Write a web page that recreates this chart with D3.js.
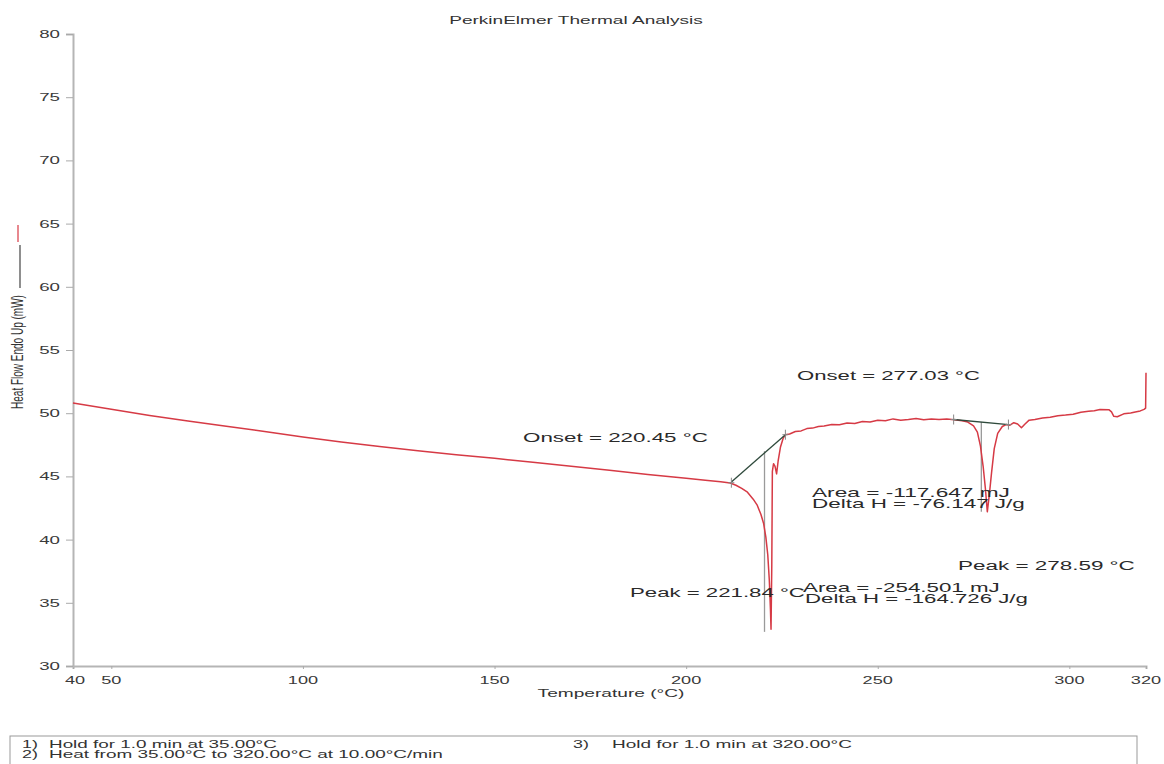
<!DOCTYPE html>
<html>
<head>
<meta charset="utf-8">
<script src="https://cdn.jsdelivr.net/npm/d3@7"></script>
<style>
  html, body { margin: 0; padding: 0; background: #fff; }
  svg { display: block; font-family: "Liberation Sans", Arial, sans-serif; }
</style>
</head>
<body>
<svg id="chart" width="1164" height="764"></svg>
<script>
// ---------------- DATA ----------------
const temperature = [
  40, 50, 60, 70, 80, 90, 100, 110, 120, 130, 140, 150, 160, 170, 180, 190, 200, 205, 209, 211.5,
  213, 214.5, 216, 217.5, 218.5, 219.5, 220.2, 220.8, 221.3, 221.7, 222.0, 222.15,
  222.35, 222.5, 222.8, 223.2, 223.6, 224.0, 224.6, 225.3, 225.9,
  227, 228.5, 230, 231.5, 233, 234.5, 236, 238, 240, 242, 244, 246, 248, 250, 252, 254, 256, 258,
  260, 262, 264, 266, 268, 270, 272, 273.5, 275, 276, 276.8, 277.5, 278.1, 278.59, 279.1, 279.7,
  280.4, 281.3, 282.5, 283.5, 284.5, 285.5, 286.5, 287.5, 288.3, 289.5, 291, 293, 295, 297, 299,
  301, 303, 305, 306.5, 308, 310.3, 311.0, 311.6, 312.5, 314.2, 316, 317.2, 318.5, 319.5, 319.9, 320
];
const heatFlow = [
  50.80, 50.32, 49.82, 49.38, 48.96, 48.56, 48.12, 47.72, 47.36, 47.02, 46.72, 46.43, 46.12, 45.80, 45.48, 45.15, 44.85, 44.70, 44.58, 44.48,
  44.30, 44.05, 43.75, 43.20, 42.75, 42.00, 41.30, 40.20, 38.80, 36.80, 34.50, 32.90,
  38.00, 45.40, 46.00, 45.80, 45.20, 46.20, 47.30, 48.00, 48.30,
  48.35, 48.55, 48.60, 48.78, 48.82, 48.95, 48.98, 49.10, 49.08, 49.22, 49.18, 49.35, 49.30, 49.45, 49.40, 49.55, 49.45, 49.50,
  49.58, 49.48, 49.55, 49.50, 49.55, 49.48, 49.40, 49.30, 49.00, 48.50, 47.40, 45.80, 44.00, 42.20, 43.50, 45.30,
  47.20, 48.40, 48.95, 49.10, 49.05, 49.25, 49.15, 48.85, 49.10, 49.45, 49.50, 49.62, 49.68, 49.80, 49.85,
  49.92, 50.08, 50.15, 50.20, 50.30, 50.28, 50.10, 49.75, 49.72, 49.95, 50.02, 50.10, 50.18, 50.30, 50.40, 53.20
];

// analysis constructions (temperature, heat flow)
const tangent1 = [[211.8, 44.55], [225.9, 48.30]];
const baseline2 = [[269.8, 49.50], [284.1, 49.10]];
const markerPoints = [[211.8, 44.50], [225.9, 48.30], [269.8, 49.50], [284.1, 49.10]];
const onsetTemps = [220.45, 277.03];
const onsetTop = [47.00, 49.30];
const onsetBottom = [32.70, 42.20];

const xTicks = [40, 50, 100, 150, 200, 250, 300, 320];
const yTicks = [30, 35, 40, 45, 50, 55, 60, 65, 70, 75, 80];

const titleText = "PerkinElmer Thermal Analysis";
const xLabel = "Temperature (°C)";
const yLabel = "Heat Flow Endo Up (mW)";
const annotations = [
  "Onset = 220.45 °C", "Onset = 277.03 °C",
  "Area = -117.647 mJ", "Delta H = -76.147 J/g",
  "Peak = 221.84 °C", "Area = -254.501 mJ", "Delta H = -164.726 J/g",
  "Peak = 278.59 °C"
];
const programSteps = [
  ["1)", "Hold for 1.0 min at 35.00°C"],
  ["2)", "Heat from 35.00°C to 320.00°C at 10.00°C/min"],
  ["3)", "Hold for 1.0 min at 320.00°C"]
];

// ---------------- CHART ----------------
const svg = d3.select("#chart");
const x = d3.scaleLinear().domain([40, 320]).range([73, 1146]);
const y = d3.scaleLinear().domain([30, 80]).range([666, 34]);

// stretched text helper (reference is horizontally stretched)
function stext(px, py, str, size, opts = {}) {
  const g = svg.append("g");
  const t = g.append("text")
    .attr("x", 0).attr("y", 0)
    .attr("font-size", size)
    .attr("fill", opts.fill || "#2a2a2a")
    .attr("text-anchor", opts.anchor || "start")
    .attr("dominant-baseline", "central")
    .text(str);
  let sx = opts.sx || 1.6;
  if (opts.width) sx = opts.width / t.node().getComputedTextLength();
  if (opts.rotate) {
    g.attr("transform", `translate(${px},${py}) scale(${opts.sxr || 1.6},1) rotate(-90)`);
  } else {
    g.attr("transform", `translate(${px},${py}) scale(${sx},1)`);
  }
  return t;
}

// title
stext(576, 20, titleText, 11, {anchor: "middle", width: 254, fill: "#333"});

// axes
const xAxis = d3.axisBottom(x).tickValues(xTicks).tickSize(3).tickFormat("");
const gx = svg.append("g").attr("transform", "translate(0,666)").call(xAxis);
gx.select(".domain").attr("stroke", "#b5b5b5").attr("stroke-width", 2);
gx.selectAll(".tick line").attr("stroke", "#aaa");

const yAxis = d3.axisLeft(y).tickValues(yTicks).tickSize(7).tickFormat("");
const gy = svg.append("g").attr("transform", "translate(73,0)").call(yAxis);
gy.select(".domain").attr("stroke", "#b5b5b5").attr("stroke-width", 2);
gy.selectAll(".tick line").attr("stroke", "#aaa");

// tick labels
xTicks.forEach(v => stext(x(v) + (v === 40 ? 2 : 0), 680, String(v), 11, {anchor: "middle", sx: 1.65, fill: "#3a3a3a"}));
yTicks.forEach(v => stext(60, y(v), String(v), 11, {anchor: "end", sx: 1.7, fill: "#3a3a3a"}));

// axis labels
stext(611, 693, xLabel, 11.5, {anchor: "middle", width: 147, fill: "#333"});
stext(18, 352, yLabel, 10, {anchor: "middle", rotate: true, sxr: 1.6, fill: "#333"});
svg.append("line").attr("x1", 18).attr("x2", 18).attr("y1", 225).attr("y2", 242)
  .attr("stroke", "#e0606a").attr("stroke-width", 1.5);
svg.append("line").attr("x1", 20).attr("x2", 20).attr("y1", 245).attr("y2", 288)
  .attr("stroke", "#444").attr("stroke-width", 1.2);

// onset vertical lines
onsetTemps.forEach((t, i) => {
  svg.append("line")
    .attr("x1", x(t)).attr("x2", x(t))
    .attr("y1", y(onsetTop[i])).attr("y2", y(onsetBottom[i]))
    .attr("stroke", "#9a9a9a").attr("stroke-width", 1.3);
});

// curve
const line = d3.line().x((d, i) => x(temperature[i])).y((d, i) => y(heatFlow[i]));
svg.append("path").datum(temperature)
  .attr("d", line)
  .attr("fill", "none")
  .attr("stroke", "#d63a45")
  .attr("stroke-width", 1.5)
  .attr("stroke-linejoin", "round");

// tangent + baseline
const pl = d3.line().x(d => x(d[0])).y(d => y(d[1]));
[tangent1, baseline2].forEach(seg => {
  svg.append("path").attr("d", pl(seg)).attr("fill", "none")
    .attr("stroke", "#2f4a3c").attr("stroke-width", 1.3);
});

// markers
markerPoints.forEach(p => {
  const cx = x(p[0]), cy = y(p[1]);
  svg.append("path").attr("d", `M${cx - 3},${cy}H${cx + 3}M${cx},${cy - 5}V${cy + 5}`)
    .attr("stroke", "#888").attr("stroke-width", 1);
});

// annotations
stext(523, 437, annotations[0], 13.5, {width: 185});
stext(797, 375, annotations[1], 13.5, {width: 183});
stext(812, 492, annotations[2], 13, {width: 198});
stext(812, 503.5, annotations[3], 13, {width: 213});
stext(630, 592, annotations[4], 13.5, {width: 175});
stext(803, 587, annotations[5], 13, {width: 197});
stext(805, 599, annotations[6], 13, {width: 223});
stext(958, 565, annotations[7], 13.5, {width: 177});

// program box
svg.append("rect").attr("x", 10).attr("y", 736).attr("width", 1127).attr("height", 40)
  .attr("fill", "none").attr("stroke", "#999").attr("stroke-width", 1);
stext(22, 744, programSteps[0][0], 10.5, {sx: 1.7, fill: "#333"});
stext(49, 744, programSteps[0][1], 10.5, {width: 228, fill: "#333"});
stext(22, 754.5, programSteps[1][0], 10.5, {sx: 1.7, fill: "#333"});
stext(49, 754.5, programSteps[1][1], 10.5, {width: 394, fill: "#333"});
stext(573, 744, programSteps[2][0], 10.5, {sx: 1.7, fill: "#333"});
stext(612, 744, programSteps[2][1], 10.5, {width: 240, fill: "#333"});
</script>
</body>
</html>
